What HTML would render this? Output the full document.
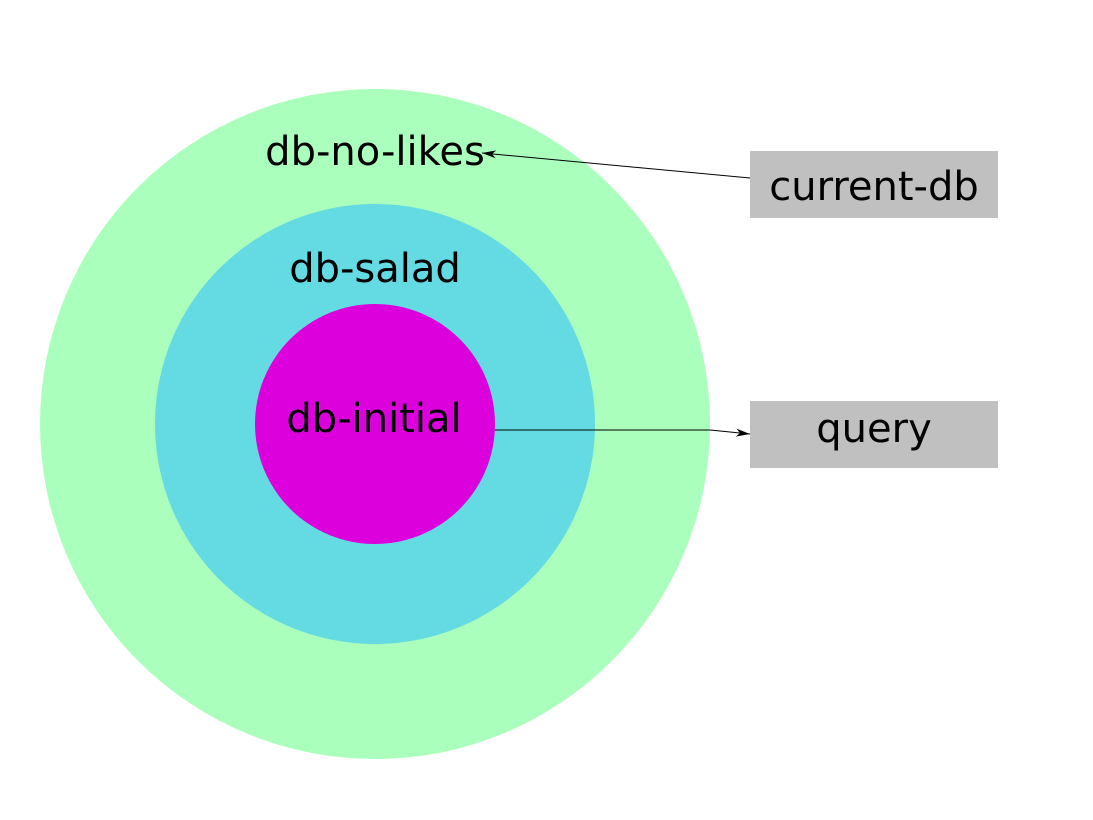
<!DOCTYPE html>
<html><head><meta charset="utf-8"><style>html,body{margin:0;padding:0;background:#fff;}svg{display:block}</style></head>
<body>
<svg width="1093" height="820" viewBox="0 0 1093 820" xmlns="http://www.w3.org/2000/svg" font-family="DejaVu Sans, Liberation Sans, sans-serif" font-size="40">
<defs><marker id="a" markerWidth="14" markerHeight="8" refX="14" refY="4" orient="auto" markerUnits="userSpaceOnUse"><path d="M0,0 L14,4 L0,8 L4,4 Z" fill="#000"/></marker></defs>
<circle cx="375" cy="424" r="335" fill="#abffbd"/>
<circle cx="375" cy="424" r="220" fill="#64dbe3"/>
<circle cx="375" cy="424" r="120" fill="#dc00dc"/>
<text x="375" y="165" text-anchor="middle">db-no-likes</text>
<text x="375" y="282" text-anchor="middle">db-salad</text>
<text x="374" y="432" text-anchor="middle">db-initial</text>
<rect x="750" y="151" width="248" height="67" fill="#c0c0c0"/>
<rect x="750" y="401" width="248" height="67" fill="#c0c0c0"/>
<text x="874" y="200" text-anchor="middle">current-db</text>
<text x="874" y="442" text-anchor="middle">query</text>
<line x1="750" y1="178" x2="482" y2="153" stroke="#000" stroke-width="1" marker-end="url(#a)"/>
<polyline points="495,430 710,430 750,434" fill="none" stroke="#000" stroke-width="1" marker-end="url(#a)"/>
</svg>
</body></html>
